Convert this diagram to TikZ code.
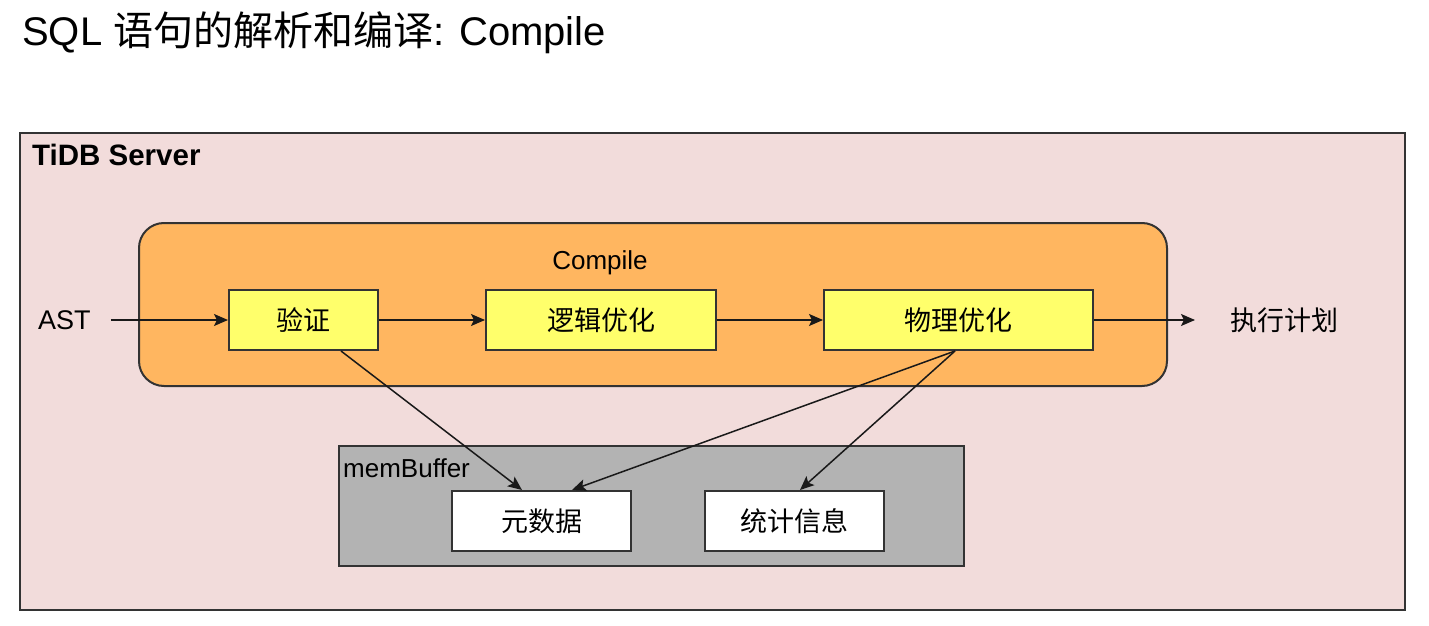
\documentclass[tikz,border=0pt]{standalone}
\usepackage{fontspec}
\setmainfont{Liberation Sans}
\newfontfamily\cjk{Noto Sans CJK SC}
\usepackage{tikz}
\usetikzlibrary{arrows.meta}
\definecolor{serverpink}{HTML}{F2DCDB}
\definecolor{compileorange}{HTML}{FFB660}
\definecolor{stageyellow}{HTML}{FFFF6B}
\definecolor{buffergray}{HTML}{B3B3B3}
\definecolor{edgegray}{HTML}{333333}

\tikzset{
	stage/.style={draw=edgegray, line width=2pt, fill=stageyellow, minimum height=60pt, inner sep=0pt, font=\fontsize{27pt}{32pt}\selectfont\cjk},
	store/.style={draw=edgegray, line width=2pt, fill=white, minimum width=179pt, minimum height=60pt, inner sep=0pt, font=\fontsize{27pt}{32pt}\selectfont\cjk},
	flow/.style={->, line width=1.5pt, draw=black!90}
}

\begin{document}
\begin{tikzpicture}[x=1pt,y=-1pt,>={Stealth[length=14pt,width=12pt,inset=3pt]}]
	\useasboundingbox (0,0) rectangle (1429,626);
	\fill[white] (0,0) rectangle (1429,626);
	
	%title
	\node[anchor=base west, inner sep=0pt, font=\fontsize{40pt}{46pt}\selectfont] (title) at (22,46) {SQL {\cjk 语句的解析和编译}: Compile};
	
	%the server
	\draw[draw=edgegray, line width=2pt, fill=serverpink] (20,133) -- (1405,133) -- (1405,610) -- (20,610) -- cycle;
	\node[anchor=base west, inner sep=0pt, font=\fontsize{29.5pt}{34pt}\selectfont\bfseries] (server) at (32,165) {TiDB Server};
	
	%compile stage
	\draw[draw=edgegray, line width=2pt, fill=compileorange, rounded corners=25pt] (139,223) -- (1167,223) -- (1167,386) -- (139,386) -- cycle;
	\node[anchor=base, inner sep=0pt, font=\fontsize{26pt}{30pt}\selectfont] (compile) at (600,269) {Compile};
	\node[stage, minimum width=149pt] (verify) at (303.5,320) {验证};
	\node[stage, minimum width=230pt] (logic) at (601,320) {逻辑优化};
	\node[stage, minimum width=269pt] (phys) at (958.5,320) {物理优化};
	
	%memBuffer
	\draw[draw=edgegray, line width=2pt, fill=buffergray] (339,446) -- (964,446) -- (964,566) -- (339,566) -- cycle;
	\node[anchor=base west, inner sep=0pt, font=\fontsize{26pt}{30pt}\selectfont] (buffer) at (343,477) {memBuffer};
	\node[store] (meta) at (541.5,521) {元数据};
	\node[store] (stats) at (794.5,521) {统计信息};
	
	%in and out
	\node[anchor=west, inner sep=0pt, font=\fontsize{27pt}{32pt}\selectfont] (ast) at (38,320) {AST};
	\node[anchor=west, inner sep=0pt, font=\fontsize{27pt}{32pt}\selectfont\cjk] (plan) at (1230,320) {执行计划};
	
	\draw[flow, shorten <=20pt] (ast.east) -- (verify.west);
	\draw[flow] (verify) -- (logic);
	\draw[flow] (logic) -- (phys);
	\draw[flow, shorten >=35pt] (phys.east) -- (plan.west);
	
	\draw[flow] ([xshift=37.5pt]verify.south) -- ([xshift=-19.5pt]meta.north);
	\draw[flow] ([xshift=-3.5pt]phys.south) -- ([xshift=30.5pt]meta.north);
	\draw[flow] ([xshift=-3.5pt]phys.south) -- ([xshift=5.5pt]stats.north);
\end{tikzpicture}
\end{document}
